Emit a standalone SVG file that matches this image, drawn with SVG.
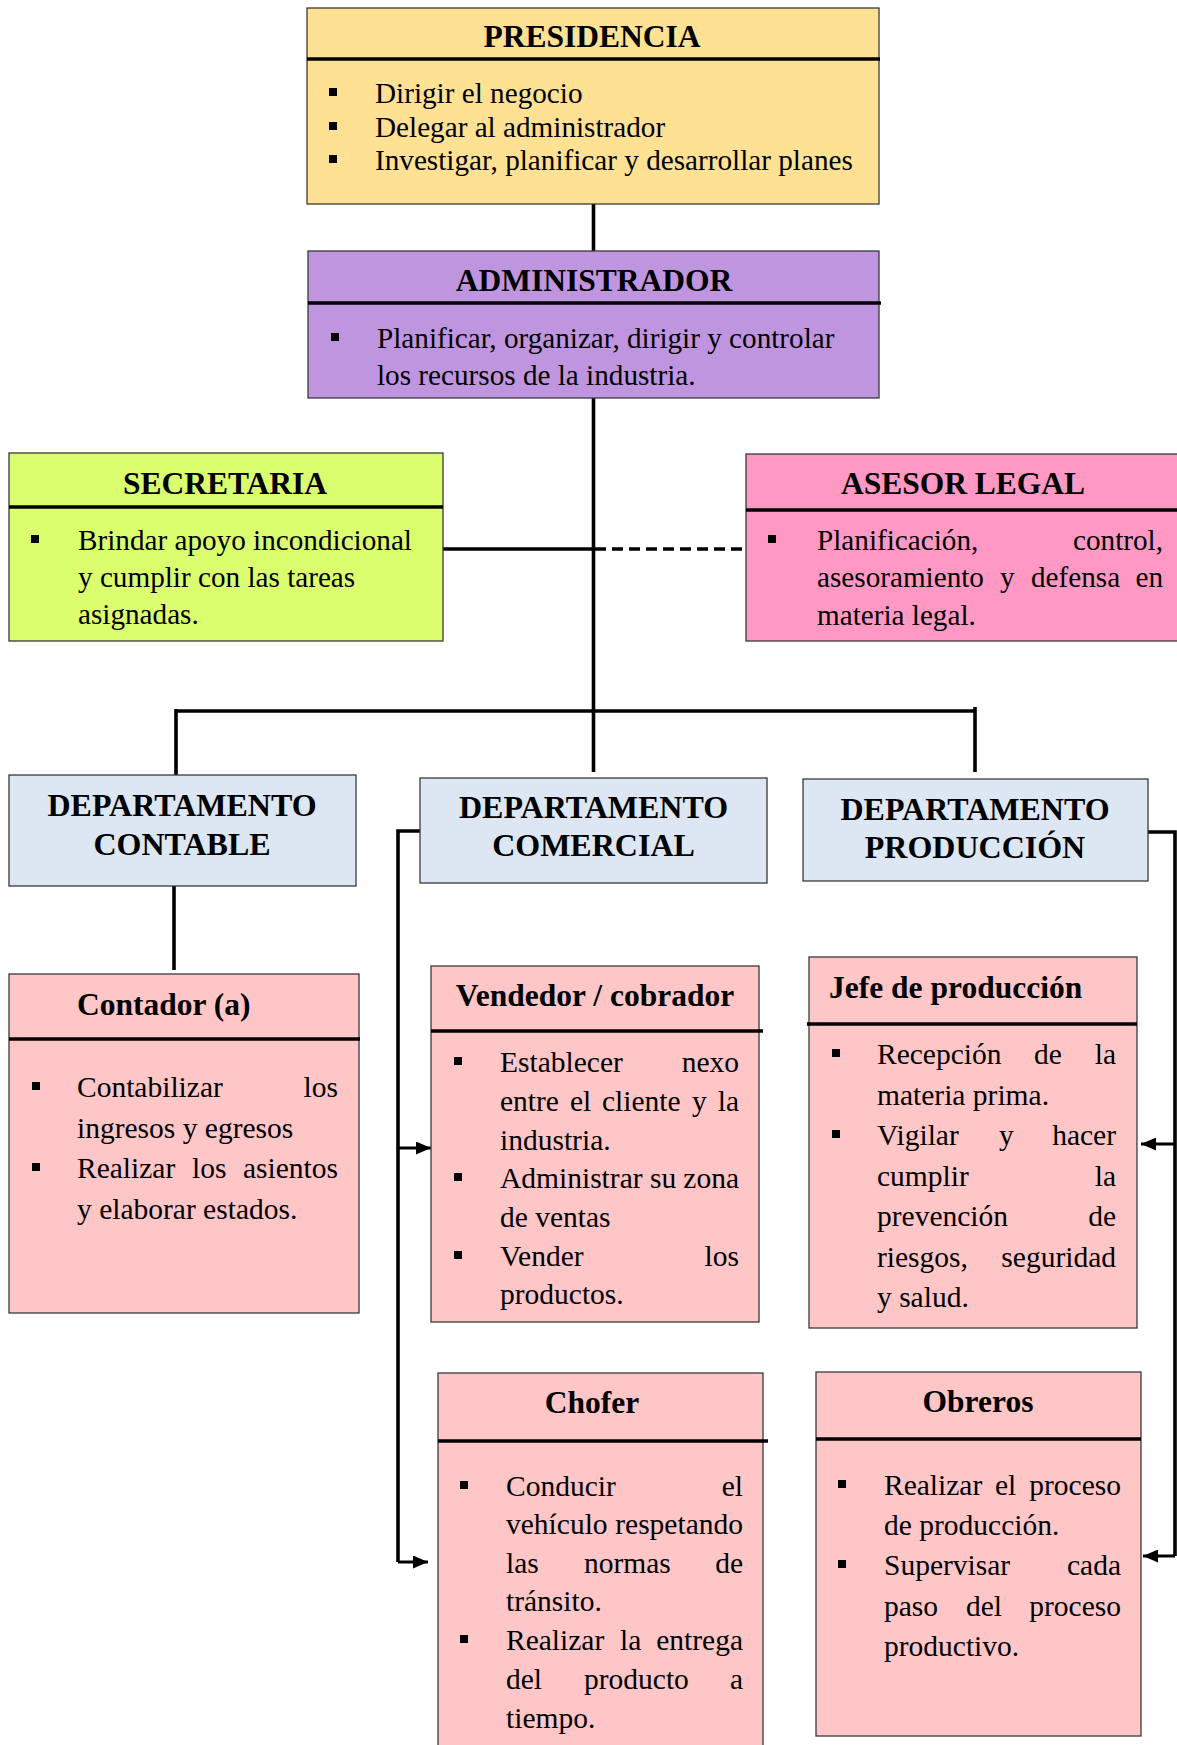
<svg xmlns="http://www.w3.org/2000/svg" width="1177" height="1745" viewBox="0 0 1177 1745">
<style>
text{font-family:"Liberation Serif","Times New Roman",serif;fill:#000}
.t{font-weight:bold;font-size:31.5px}
.d{font-weight:bold;font-size:32px;text-anchor:middle}
.c{text-anchor:middle}
.b{font-size:29.5px}
.bs{font-size:29.2px}
.e{text-anchor:end}
.box{stroke:#3a3a3a;stroke-width:1.3}
.hl{stroke:#000;stroke-width:3.5}
.ln{stroke:#000;stroke-width:3.6;fill:none}
.ar{stroke:#000;stroke-width:3;fill:none}
.dash{stroke:#000;stroke-width:3.6;stroke-dasharray:11 6;fill:none}
.y{fill:#FFE194}.p{fill:#BF95DF}.g{fill:#DBFE6E}.k{fill:#FF99C3}.bl{fill:#DCE7F3}.r{fill:#FFC6C8}
</style>
<defs>
<marker id="ah" viewBox="0 0 15 13" refX="15" refY="6.5" markerWidth="15" markerHeight="13" markerUnits="userSpaceOnUse" orient="auto"><path d="M0,0 L15,6.5 L0,13 z" fill="#000"/></marker>
<rect id="bu" width="8" height="8" fill="#000"/>
</defs>

<g id="connectors">
<path class="ln" d="M593.5,204 V251"/>
<path class="ln" d="M593.5,398 V772"/>
<path class="ln" d="M443,549 H593.5"/>
<path class="dash" d="M595,549 H746"/>
<path class="ln" d="M176,711 H975"/>
<path class="ln" d="M176,709 V775"/>
<path class="ln" d="M975,707 V772"/>
<path class="ln" d="M174,886 V970"/>
<path class="ln" d="M420,831 H398 V1562"/>
<path class="ar" d="M398,1148 H431" marker-end="url(#ah)"/>
<path class="ar" d="M398,1562 H428" marker-end="url(#ah)"/>
<path class="ln" d="M1148,832 H1175 V1556"/>
<path class="ar" d="M1175,1144 H1141" marker-end="url(#ah)"/>
<path class="ar" d="M1175,1556 H1143" marker-end="url(#ah)"/>
</g>

<g id="presidencia">
<rect class="box y" x="307" y="8" width="572" height="196"/>
<line class="hl" x1="307" y1="59" x2="880" y2="59"/>
<text class="t c" x="592" y="47">PRESIDENCIA</text>
<use href="#bu" x="329" y="88"/><use href="#bu" x="329" y="122"/><use href="#bu" x="329" y="155"/>
<text class="bs" x="375" y="103">Dirigir el negocio</text>
<text class="bs" x="375" y="137">Delegar al administrador</text>
<text class="bs" x="375" y="170">Investigar, planificar y desarrollar planes</text>
</g>

<g id="administrador">
<rect class="box p" x="308" y="251" width="571" height="147"/>
<line class="hl" x1="308" y1="303" x2="881" y2="303"/>
<text class="t c" x="594" y="291">ADMINISTRADOR</text>
<use href="#bu" x="331" y="333"/>
<text class="bs" x="377" y="348">Planificar, organizar, dirigir y controlar</text>
<text class="bs" x="377" y="385">los recursos de la industria.</text>
</g>

<g id="secretaria">
<rect class="box g" x="9" y="453" width="434" height="188"/>
<line class="hl" x1="9" y1="507" x2="443" y2="507"/>
<text class="t c" x="225" y="494">SECRETARIA</text>
<use href="#bu" x="31" y="535"/>
<text class="bs" x="78" y="550">Brindar apoyo incondicional</text>
<text class="bs" x="78" y="587">y cumplir con las tareas</text>
<text class="bs" x="78" y="624">asignadas.</text>
</g>

<g id="asesor-legal">
<rect class="box k" x="746" y="454" width="440" height="187"/>
<line class="hl" x1="746" y1="510" x2="1180" y2="510"/>
<text class="t c" x="963" y="494">ASESOR LEGAL</text>
<use href="#bu" x="768" y="535"/>
<text class="bs" x="817" y="550">Planificación,</text><text class="bs e" x="1163" y="550">control,</text>
<text class="bs" x="817" y="587">asesoramiento</text><text class="bs" x="1000" y="587">y</text><text class="bs" x="1031" y="587">defensa</text><text class="bs e" x="1163" y="587">en</text>
<text class="bs" x="817" y="625">materia legal.</text>
</g>

<g id="dep-contable">
<rect class="box bl" x="9" y="775" width="347" height="111"/>
<text class="d" x="182" y="816">DEPARTAMENTO</text>
<text class="d" x="182" y="855">CONTABLE</text>
</g>

<g id="dep-comercial">
<rect class="box bl" x="420" y="778" width="347" height="105"/>
<text class="d" x="593.5" y="818">DEPARTAMENTO</text>
<text class="d" x="593.5" y="856">COMERCIAL</text>
</g>

<g id="dep-produccion">
<rect class="box bl" x="803" y="779" width="345" height="102"/>
<text class="d" x="975" y="820">DEPARTAMENTO</text>
<text class="d" x="975" y="858">PRODUCCIÓN</text>
</g>

<g id="contador">
<rect class="box r" x="9" y="974" width="350" height="339"/>
<line class="hl" x1="9" y1="1039" x2="360" y2="1039"/>
<text class="t" x="77" y="1015">Contador (a)</text>
<use href="#bu" x="32" y="1082"/><use href="#bu" x="32" y="1163"/>
<text class="b" x="77" y="1097">Contabilizar</text><text class="b e" x="338" y="1097">los</text>
<text class="b" x="77" y="1138">ingresos y egresos</text>
<text class="b" x="77" y="1178">Realizar</text><text class="b" x="192" y="1178">los</text><text class="b e" x="338" y="1178">asientos</text>
<text class="b" x="77" y="1219">y elaborar estados.</text>
</g>

<g id="vendedor">
<rect class="box r" x="431" y="966" width="328" height="356"/>
<line class="hl" x1="431" y1="1031" x2="763" y2="1031"/>
<text class="t c" x="595" y="1006">Vendedor / cobrador</text>
<use href="#bu" x="454" y="1057"/><use href="#bu" x="454" y="1173"/><use href="#bu" x="454" y="1251"/>
<text class="b" x="500" y="1072">Establecer</text><text class="b e" x="739" y="1072">nexo</text>
<text class="b" x="500" y="1111">entre</text><text class="b" x="570" y="1111">el</text><text class="b" x="602" y="1111">cliente</text><text class="b" x="692" y="1111">y</text><text class="b e" x="739" y="1111">la</text>
<text class="b" x="500" y="1150">industria.</text>
<text class="b" x="500" y="1188">Administrar</text><text class="b" x="650" y="1188">su</text><text class="b e" x="739" y="1188">zona</text>
<text class="b" x="500" y="1227">de ventas</text>
<text class="b" x="500" y="1266">Vender</text><text class="b e" x="739" y="1266">los</text>
<text class="b" x="500" y="1304">productos.</text>
</g>

<g id="jefe-produccion">
<rect class="box r" x="809" y="957" width="328" height="371"/>
<line class="hl" x1="807" y1="1024" x2="1137" y2="1024"/>
<text class="t" x="829" y="998">Jefe de producción</text>
<use href="#bu" x="832" y="1049"/><use href="#bu" x="832" y="1130"/>
<text class="b" x="877" y="1064">Recepción</text><text class="b" x="1034" y="1064">de</text><text class="b e" x="1116" y="1064">la</text>
<text class="b" x="877" y="1105">materia prima.</text>
<text class="b" x="877" y="1145">Vigilar</text><text class="b" x="999" y="1145">y</text><text class="b e" x="1116" y="1145">hacer</text>
<text class="b" x="877" y="1186">cumplir</text><text class="b e" x="1116" y="1186">la</text>
<text class="b" x="877" y="1226">prevención</text><text class="b e" x="1116" y="1226">de</text>
<text class="b" x="877" y="1267">riesgos,</text><text class="b e" x="1116" y="1267">seguridad</text>
<text class="b" x="877" y="1307">y salud.</text>
</g>

<g id="chofer">
<rect class="box r" x="438" y="1373" width="325" height="400"/>
<line class="hl" x1="438" y1="1441" x2="768" y2="1441"/>
<text class="t c" x="592" y="1413">Chofer</text>
<use href="#bu" x="460" y="1481"/><use href="#bu" x="460" y="1635"/>
<text class="b" x="506" y="1496">Conducir</text><text class="b e" x="743" y="1496">el</text>
<text class="b" x="506" y="1534">vehículo</text><text class="b e" x="743" y="1534">respetando</text>
<text class="b" x="506" y="1573">las</text><text class="b" x="584" y="1573">normas</text><text class="b e" x="743" y="1573">de</text>
<text class="b" x="506" y="1611">tránsito.</text>
<text class="b" x="506" y="1650">Realizar</text><text class="b" x="620" y="1650">la</text><text class="b e" x="743" y="1650">entrega</text>
<text class="b" x="506" y="1689">del</text><text class="b" x="584" y="1689">producto</text><text class="b e" x="743" y="1689">a</text>
<text class="b" x="506" y="1728">tiempo.</text>
</g>

<g id="obreros">
<rect class="box r" x="816" y="1372" width="325" height="364"/>
<line class="hl" x1="816" y1="1439" x2="1141" y2="1439"/>
<text class="t c" x="978" y="1412">Obreros</text>
<use href="#bu" x="838" y="1480"/><use href="#bu" x="838" y="1560"/>
<text class="b" x="884" y="1495">Realizar</text><text class="b" x="995" y="1495">el</text><text class="b e" x="1121" y="1495">proceso</text>
<text class="b" x="884" y="1535">de producción.</text>
<text class="b" x="884" y="1575">Supervisar</text><text class="b e" x="1121" y="1575">cada</text>
<text class="b" x="884" y="1616">paso</text><text class="b" x="966" y="1616">del</text><text class="b e" x="1121" y="1616">proceso</text>
<text class="b" x="884" y="1656">productivo.</text>
</g>
</svg>
